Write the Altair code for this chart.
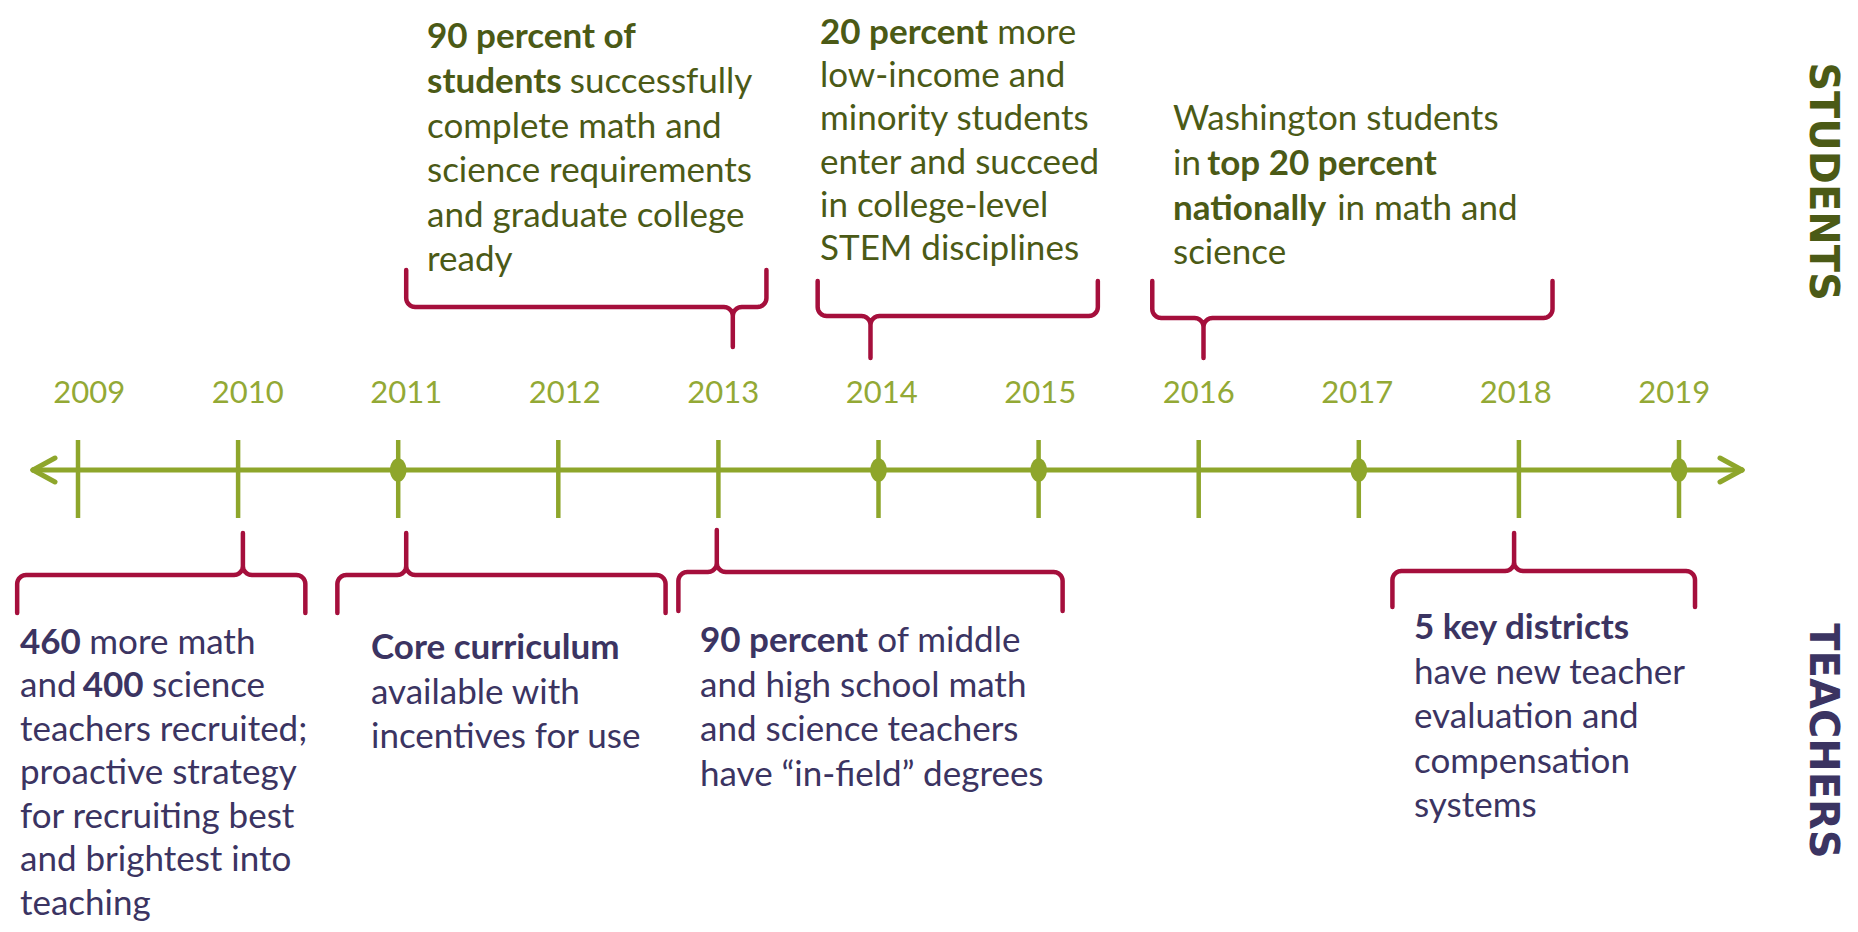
import math
import altair as alt
import pandas as pd

# ---------------- data ----------------
years = list(range(2009, 2020))
milestone_years = [2011, 2014, 2015, 2017, 2019]

student_goals = [
    [[("90 percent of", "b")],
     [("students", "b"), ("successfully", "n")],
     [("complete math and", "n")],
     [("science requirements", "n")],
     [("and graduate college", "n")],
     [("ready", "n")]],
    [[("20 percent", "b"), ("more", "n")],
     [("low-income and", "n")],
     [("minority students", "n")],
     [("enter and succeed", "n")],
     [("in college-level", "n")],
     [("STEM disciplines", "n")]],
    [[("Washington students", "n")],
     [("in", "n"), ("top 20 percent", "b")],
     [("nationally", "b"), ("in math and", "n")],
     [("science", "n")]],
]
student_span_start = [2011.05, 2013.62, 2015.71]
student_span_end = [2013.30, 2015.37, 2018.21]
student_target_year = [2013.09, 2013.95, 2016.03]

teacher_goals = [
    [[("460", "b"), ("more math", "n")],
     [("and", "n"), ("400", "b"), ("science", "n")],
     [("teachers recruited;", "n")],
     [("proactive strategy", "n")],
     [("for recruiting best", "n")],
     [("and brightest into", "n")],
     [("teaching", "n")]],
    [[("Core curriculum", "b")],
     [("available with", "n")],
     [("incentives for use", "n")]],
    [[("90 percent", "b"), ("of middle", "n")],
     [("and high school math", "n")],
     [("and science teachers", "n")],
     [("have \u201cin-field\u201d degrees", "n")]],
    [[("5 key districts", "b")],
     [("have new teacher", "n")],
     [("evaluation and", "n")],
     [("compensation", "n")],
     [("systems", "n")]],
]
teacher_span_start = [2008.62, 2010.62, 2012.75, 2017.21]
teacher_span_end = [2010.42, 2012.67, 2015.15, 2019.10]
teacher_target_year = [2010.03, 2011.05, 2012.99, 2017.97]

side_labels = ["STUDENTS", "TEACHERS"]

# ---------------- layout & style ----------------
W, H = 1842, 914
PX_PER_YEAR = 160.1
X_FIRST = 70.0
X0 = years[0] - X_FIRST / PX_PER_YEAR
X1 = X0 + W / PX_PER_YEAR

GREEN = "#8ea62b"
YEARC = "#93a935"
STU = "#4b5a16"
TEA = "#3b3462"
BRACE = "#a50f3c"

FONT = "Lato"
FS = 35
XH = 0.255 * FS + 3  # x-height centre -> baseline offset

AXIS_Y = 462
TICK_TOP, TICK_BOT = 432, 510
LABEL_BASE = 395

student_anchor_x = [419, 812, 1165]
student_anchor_y = [28.5, 24, 110.5]
student_line = [44.6, 43.2, 44.6]
student_arm = [262, 273, 273]
student_bar = [299, 308, 310]
student_tip = [339, 350, 350]

teacher_anchor_x = [12, 363, 692, 1406]
teacher_anchor_y = [634, 639, 632, 619]
teacher_line = [43.5, 44.6, 44.6, 44.6]
teacher_arm = [605, 605, 603, 599]
teacher_bar = [567, 567, 564, 563]
teacher_tip = [525, 525, 522, 525]


def yr(xpx):
    return X0 + xpx / PX_PER_YEAR


def to_px(year):
    return (year - X0) * PX_PER_YEAR


# rough Lato advance widths (em)
REG = dict(a=.49, b=.55, c=.46, d=.55, e=.52, f=.32, g=.50, h=.55, i=.23, j=.23, k=.49,
           l=.23, m=.82, n=.55, o=.54, p=.55, q=.55, r=.35, s=.40, t=.33, u=.55, v=.49,
           w=.74, x=.49, y=.49, z=.45)
BOLD = dict(a=.52, b=.58, c=.48, d=.58, e=.54, f=.35, g=.53, h=.58, i=.26, j=.26, k=.54,
            l=.26, m=.86, n=.58, o=.58, p=.58, q=.58, r=.39, s=.42, t=.36, u=.58, v=.53,
            w=.79, x=.53, y=.53, z=.48)


def text_width(s, weight):
    tbl = BOLD if weight == "b" else REG
    w = 0.0
    for ch in s:
        if ch == " ":
            w += .193
        elif ch.isdigit():
            w += .58
        elif ch in tbl:
            w += tbl[ch]
        elif ch.isupper():
            w += .68 if weight == "b" else .65
        else:
            w += .3
    return w * FS


rows = []
for goals, ax, ay, lh, color in ((student_goals, student_anchor_x, student_anchor_y, student_line, STU),
                                 (teacher_goals, teacher_anchor_x, teacher_anchor_y, teacher_line, TEA)):
    for b, block in enumerate(goals):
        for li, line in enumerate(block):
            xcur = ax[b]
            for seg, weight in line:
                rows.append(dict(x=yr(xcur), y=ay[b] + li * lh[b] + XH, t=seg, w=weight, c=color))
                xcur += text_width(seg, weight) + (0.24 if weight == "b" else 0.2) * FS
text_df = pd.DataFrame(rows)


# braces built from spans
def brace_points(L, R, P, arm, bar, tip, r=9, n=8):
    s = 1 if tip > bar else -1
    pts = [(L, arm)]
    for k in range(n + 1):
        t = k / n * math.pi / 2
        pts.append((L + r - r * math.cos(t), bar - s * r + s * r * math.sin(t)))
    for k in range(n + 1):
        t = k / n * math.pi / 2
        pts.append((P - r + r * math.sin(t), bar + s * r - s * r * math.cos(t)))
    pts.append((P, tip))
    for k in range(n + 1):
        t = k / n * math.pi / 2
        pts.append((P + r - r * math.cos(t), bar + s * r - s * r * math.sin(t)))
    for k in range(n + 1):
        t = k / n * math.pi / 2
        pts.append((R - r + r * math.sin(t), bar - s * r + s * r * math.cos(t)))
    pts.append((R, arm))
    return pts


brace_rows = []
bid = 0
for starts, ends, points, arms, bars, tips in (
        (student_span_start, student_span_end, student_target_year, student_arm, student_bar, student_tip),
        (teacher_span_start, teacher_span_end, teacher_target_year, teacher_arm, teacher_bar, teacher_tip)):
    for s0, e0, p0, a0, b0, t0 in zip(starts, ends, points, arms, bars, tips):
        pts = brace_points(to_px(s0), to_px(e0), to_px(p0), a0, b0, t0)
        for i, (xx, yy) in enumerate(pts):
            brace_rows.append(dict(b=bid, i=i, x=yr(xx), y=yy))
        bid += 1
brace_df = pd.DataFrame(brace_rows)

# timeline axis & arrows
left_end = yr(25)
right_end = yr(1734)
head_dx = 22 / PX_PER_YEAR
axis_df = pd.DataFrame([
    dict(x=left_end, x2=right_end, y=AXIS_Y, y2=AXIS_Y),
    dict(x=left_end, x2=left_end + head_dx, y=AXIS_Y, y2=AXIS_Y - 12),
    dict(x=left_end, x2=left_end + head_dx, y=AXIS_Y, y2=AXIS_Y + 12),
    dict(x=right_end, x2=right_end - head_dx, y=AXIS_Y, y2=AXIS_Y - 12),
    dict(x=right_end, x2=right_end - head_dx, y=AXIS_Y, y2=AXIS_Y + 12),
])
tick_df = pd.DataFrame(dict(year=years, y=TICK_TOP, y2=TICK_BOT))
dot_df = pd.DataFrame(dict(year=milestone_years, y=AXIS_Y))
label_df = pd.DataFrame(dict(
    x=[2016 + (yv - 2016) * 0.99 for yv in years],
    y=LABEL_BASE, t=[str(yv) for yv in years]))
side_df = pd.DataFrame(dict(x=[yr(1813.5), yr(1814)], y=[173.5, 733], t=side_labels, c=[STU, TEA]))

xs = alt.Scale(domain=[X0, X1], nice=False, zero=False)
ys = alt.Scale(domain=[0, H], reverse=True, nice=False, zero=False)


def X(f):
    return alt.X(f, type="quantitative", scale=xs, axis=None)


def Y(f):
    return alt.Y(f, type="quantitative", scale=ys, axis=None)


braces = alt.Chart(brace_df).mark_line(color=BRACE, strokeWidth=4.5, strokeCap="round",
                                       strokeJoin="round").encode(
    x=X("x"), y=Y("y"), detail="b:N", order="i:Q")

axis = alt.Chart(axis_df).mark_rule(color=GREEN, strokeWidth=5, strokeCap="round").encode(
    x=X("x"), x2="x2:Q", y=Y("y"), y2="y2:Q")

ticks = alt.Chart(tick_df).mark_rule(color=GREEN, strokeWidth=4.5).encode(
    x=X("year"), y=Y("y"), y2="y2:Q")

ellipse = "M-0.7,0A0.7,1 0 1,0 0.7,0A0.7,1 0 1,0 -0.7,0Z"
dots = alt.Chart(dot_df).mark_point(shape=ellipse, size=560, filled=True, color=GREEN,
                                    opacity=1).encode(x=X("year"), y=Y("y"))

labels = alt.Chart(label_df).mark_text(font=FONT, fontSize=31, color=YEARC, align="center",
                                       baseline="alphabetic").encode(
    x=X("x"), y=Y("y"), text="t:N")

txt_n = alt.Chart(text_df[text_df.w == "n"]).mark_text(
    font=FONT, fontSize=FS, align="left", baseline="alphabetic").encode(
    x=X("x"), y=Y("y"), text="t:N", color=alt.Color("c:N", scale=None))
txt_b = alt.Chart(text_df[text_df.w == "b"]).mark_text(
    font=FONT, fontSize=FS, fontWeight="bold", align="left", baseline="alphabetic").encode(
    x=X("x"), y=Y("y"), text="t:N", color=alt.Color("c:N", scale=None))

side = alt.Chart(side_df).mark_text(font="DejaVu Sans", fontSize=40, fontWeight="bold",
                                    angle=90, align="center", baseline="middle").encode(
    x=X("x"), y=Y("y"), text="t:N", color=alt.Color("c:N", scale=None))

chart = alt.layer(braces, axis, ticks, dots, labels, txt_n, txt_b, side).properties(
    width=W, height=H, padding=0, autosize=alt.AutoSizeParams(type="none")
).configure_view(stroke=None)

chart.save("out.html", embed_options={"renderer": "svg", "actions": False})
